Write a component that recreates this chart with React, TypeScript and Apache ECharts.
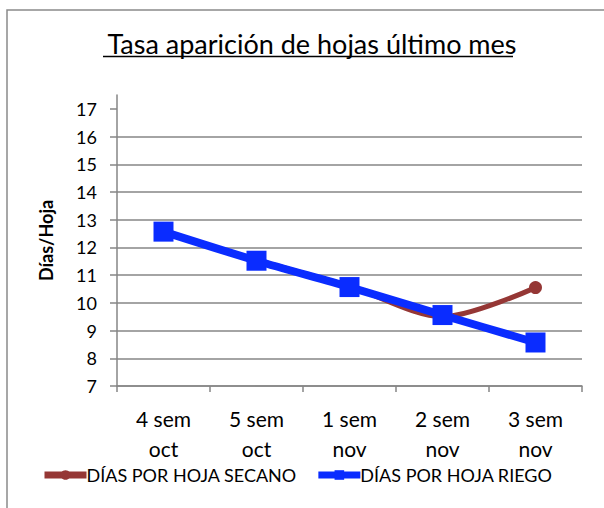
import React, { useEffect, useRef } from "react";
import * as echarts from "echarts";

const categories = ["4 sem\noct", "5 sem\noct", "1 sem\nnov", "2 sem\nnov", "3 sem\nnov"];
const secano = [12.6, 11.55, 10.6, 9.5, 10.55];
const riego = [12.57, 11.52, 10.57, 9.56, 8.57];
const yTicks = [7, 8, 9, 10, 11, 12, 13, 14, 15, 16, 17];
const titleText = "Tasa aparición de hojas último mes";
const yName = "Días/Hoja";
const seriesNames = ["DÍAS POR HOJA SECANO", "DÍAS POR HOJA RIEGO"];

const FONT = "Lato, 'Open Sans', sans-serif";

export default function App() {
  const ref = useRef<HTMLDivElement>(null);
  useEffect(() => {
    if (!ref.current) return;
    const chart = echarts.init(ref.current, null, { renderer: "svg" });
    chart.setOption({
      animation: false,
      backgroundColor: "#fff",
      textStyle: { fontFamily: FONT },
      title: {
        text: titleText,
        left: 307,
        textAlign: "center",
        top: 25,
        textStyle: { fontFamily: FONT, fontSize: 27, fontWeight: "normal", color: "#000" },
      },
      graphic: [
        {
          type: "rect",
          shape: { x: 7, y: 10, width: 700, height: 600 },
          style: { fill: "none", stroke: "#8a8a8a", lineWidth: 1.5 },
          silent: true,
        },
        {
          type: "line",
          shape: { x1: 103, y1: 56.5, x2: 513, y2: 56.5 },
          style: { stroke: "#000", lineWidth: 1.5 },
          silent: true,
        },
      ],
      grid: { left: 117, right: 22, top: 95, bottom: 122, containLabel: false },
      legend: {
        bottom: 19,
        left: 36,
        itemWidth: 42,
        itemHeight: 12,
        itemGap: 18,
        textStyle: { fontFamily: FONT, fontSize: 18, color: "#000", padding: [0, 0, 0, -5] },
        data: [
          { name: seriesNames[0], lineStyle: { width: 7 } },
          { name: seriesNames[1], lineStyle: { width: 7 } },
        ],
      },
      xAxis: {
        type: "category",
        data: categories,
        boundaryGap: true,
        axisLine: { lineStyle: { color: "#868686", width: 1.5 } },
        axisTick: { show: true, alignWithLabel: false, length: 6, lineStyle: { color: "#868686", width: 1.5 } },
        axisLabel: { fontFamily: FONT, fontSize: 21, color: "#000", lineHeight: 30, margin: 17 },
        splitLine: { show: false },
      },
      yAxis: {
        type: "value",
        name: yName,
        nameLocation: "middle",
        nameGap: 62,
        nameRotate: 90,
        nameTextStyle: { fontFamily: FONT, fontSize: 18, fontWeight: "bold", color: "#000" },
        min: 7,
        max: 17.5,
        interval: 1,
        axisLine: { show: true, lineStyle: { color: "#868686", width: 1.5 } },
        axisTick: {
          show: true,
          length: 7,
          customValues: yTicks,
          lineStyle: { color: "#868686", width: 1.5 },
        },
        axisLabel: {
          fontFamily: FONT,
          fontSize: 18,
          color: "#000",
          margin: 20,
          customValues: yTicks,
        },
        splitLine: { show: true, showMaxLine: false, lineStyle: { color: "#868686", width: 1.5 } },
      },
      series: [
        {
          name: seriesNames[0],
          type: "line",
          data: secano,
          smooth: 0.3,
          symbol: "circle",
          symbolSize: 13,
          lineStyle: { color: "#953735", width: 5 },
          itemStyle: { color: "#953735" },
          z: 2,
        },
        {
          name: seriesNames[1],
          type: "line",
          data: riego,
          smooth: 0.3,
          symbol: "rect",
          symbolSize: 20,
          lineStyle: { color: "#0a2cff", width: 8 },
          itemStyle: { color: "#0a2cff" },
          z: 3,
        },
      ],
    });
    return () => chart.dispose();
  }, []);
  return (
    <div
      ref={ref}
      style={{ position: "absolute", left: 0, top: 0, width: 604, height: 508 }}
    />
  );
}
